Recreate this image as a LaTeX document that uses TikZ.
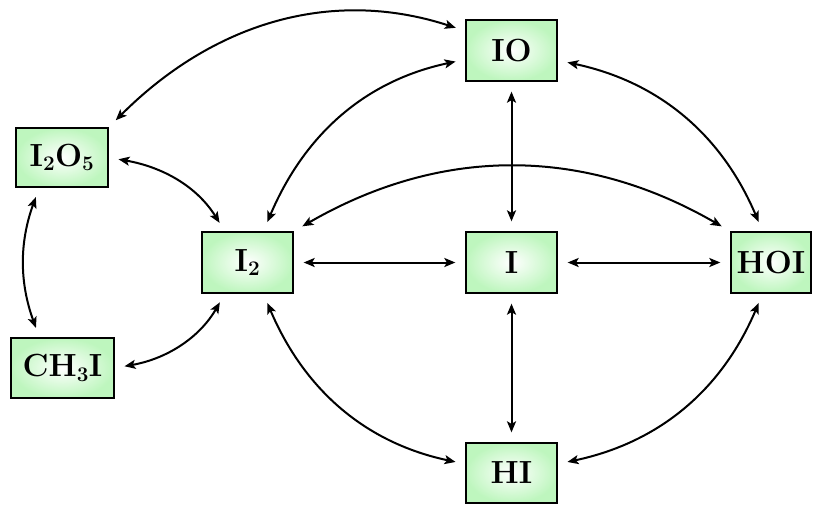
\documentclass[tikz,border=0pt]{standalone}
\usetikzlibrary{arrows.meta}
\definecolor{boxgreen}{RGB}{190,246,190}
\begin{document}
\begin{tikzpicture}[x=1pt,y=1pt,
  species/.style={draw=black, line width=1.3pt, shading=radial, inner color=white, outer color=boxgreen,
    minimum height=60pt, inner sep=0pt, font=\fontsize{32}{38}\selectfont\bfseries\boldmath},
  link/.style={line width=2pt, {Stealth[length=11pt,width=9pt,inset=2.5pt]}-{Stealth[length=11pt,width=9pt,inset=2.5pt]},
    shorten <=10pt, shorten >=10pt}]
\useasboundingbox (0,0) rectangle (814,-504);
\node[species, minimum width=91pt, minimum height=61pt] (io)   at (511.5,-50.5) {IO};
\node[species, minimum width=92pt, minimum height=59pt] (i2o5) at (62,-157.5)   {I$_2$O$_5$};
\node[species, minimum width=91pt, minimum height=61pt] (i2)   at (247.5,-262.5) {I$_2$};
\node[species, minimum width=91pt, minimum height=61pt] (i)    at (511.5,-262.5) {I};
\node[species, minimum width=80pt, minimum height=61pt] (hoi)  at (771,-262.5)  {HOI};
\node[species, minimum width=103pt, minimum height=60pt] (ch3i) at (62.5,-368)  {CH$_3$I};
\node[species, minimum width=91pt, minimum height=60pt] (hi)   at (511.5,-473)  {HI};
% straight links
\draw[link] (io) -- (i);
\draw[link] (i2) -- (i);
\draw[link] (i) -- (hoi);
\draw[link] (i) -- (hi);
% curved links
\draw[link] (i2o5.north east) to[out=45,in=162] (io.157);
\draw[link] (i2.63) to[out=67,in=192] (io.191);
\draw[link] (io.-12) to[out=-12,in=113] (hoi.105);
\draw[link] (i2.north east) to[bend left=30] (hoi.north west);
\draw[link] (i2.-63) to[out=-67,in=168] (hi.169);
\draw[link] (hoi.255) to[out=247,in=12] (hi.11);
\draw[link] (i2o5.east) to[out=-10,in=122] (i2.126);
\draw[link] (ch3i.east) to[out=10,in=240] (i2.234);
\draw[link] (i2o5.233) to[out=250,in=110] (ch3i.127);
\end{tikzpicture}
\end{document}
